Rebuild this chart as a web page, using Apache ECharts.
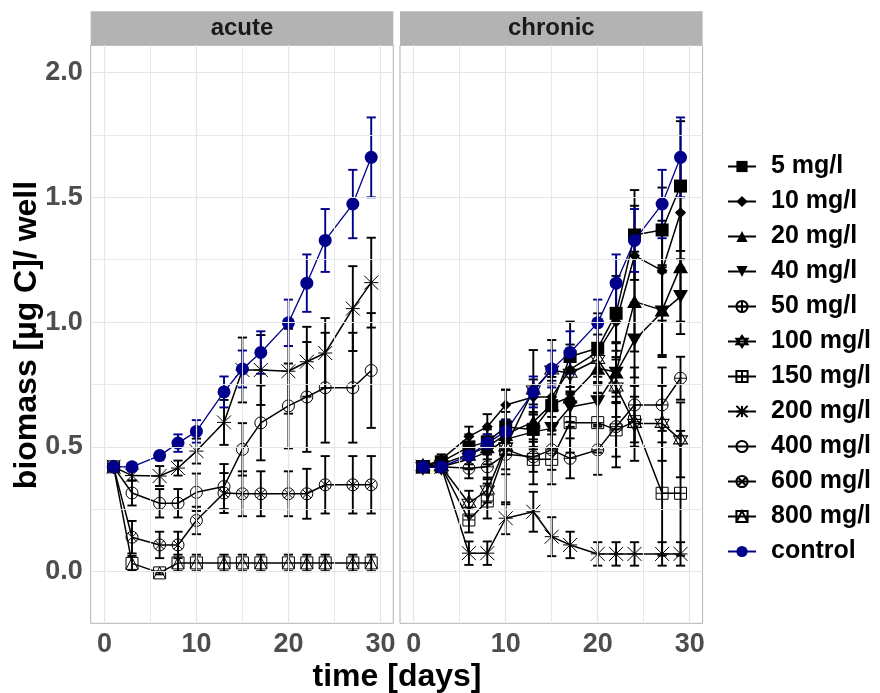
<!DOCTYPE html>
<html>
<head>
<meta charset="utf-8">
<script src="https://cdn.jsdelivr.net/npm/echarts@6/dist/echarts.min.js"></script>
<style>html,body{margin:0;padding:0;background:#fff}#c{width:880px;height:693px}</style>
</head>
<body>
<div id="c"></div>
<script>
// ---------- data ----------
const days = [1, 3, 6, 8, 10, 13, 15, 17, 20, 22, 24, 27, 29];
const xTickLabels = [0, 10, 20, 30];
const yTickLabels = [0, 0.5, 1.0, 1.5, 2.0];
const xGrid = [0, 5, 10, 15, 20, 25, 30];
const yGrid = [0, 0.25, 0.5, 0.75, 1.0, 1.25, 1.5, 1.75, 2.0];
const panels = ['acute', 'chronic'];
const legendOrder = ['5 mg/l','10 mg/l','20 mg/l','40 mg/l','50 mg/l','100 mg/l','150 mg/l','200 mg/l','400 mg/l','600 mg/l','800 mg/l','control'];

// control (same in both panels)
const controlMean = [0.42,0.42,0.465,0.515,0.562,0.72,0.812,0.878,0.997,1.156,1.327,1.473,1.66];
const controlSd   = [0.01,0.01,0.015,0.035,0.045,0.062,0.074,0.085,0.093,0.115,0.126,0.137,0.16];

// acute
const acute200Mean = [0.42,0.385,0.383,0.415,0.483,0.598,0.808,0.808,0.803,0.841,0.876,1.054,1.158];
const acute200Sd   = [0.01,0.02,0.04,0.03,0.05,0.09,0.13,0.14,0.17,0.14,0.14,0.17,0.18];
const acute400Mean = [0.42,0.315,0.274,0.274,0.318,0.341,0.49,0.596,0.664,0.70,0.737,0.737,0.806];
const acute400Sd   = [0.01,0.05,0.057,0.057,0.075,0.09,0.105,0.15,0.17,0.22,0.22,0.22,0.23];
const acute600Mean = [0.42,0.138,0.107,0.107,0.205,0.315,0.312,0.312,0.312,0.312,0.348,0.348,0.348];
const acute600Sd   = [0.01,0.065,0.053,0.053,0.055,0.08,0.09,0.09,0.09,0.1,0.115,0.115,0.115];
const acute800Mean = [0.42,0.033,-0.005,0.035,0.035,0.035,0.035,0.035,0.035,0.035,0.035,0.035,0.035];
const acute800Sd   = [0.01,0.03,0.006,0.033,0.033,0.033,0.033,0.033,0.033,0.033,0.033,0.033,0.033];

// chronic
const chronic5Mean   = [0.42,0.44,0.50,0.52,0.58,0.57,0.665,0.862,0.895,1.035,1.349,1.369,1.545];
const chronic5Sd     = [0.01,0.02,0.05,0.05,0.06,0.07,0.10,0.14,0.14,0.15,0.18,0.17,0.26];
const chronic10Mean  = [0.42,0.45,0.541,0.581,0.668,0.70,0.70,0.81,0.88,1.00,1.266,1.206,1.438];
const chronic10Sd    = [0.01,0.02,0.04,0.05,0.06,0.07,0.08,0.10,0.12,0.15,0.20,0.20,0.22];
const chronic20Mean  = [0.42,0.43,0.47,0.50,0.55,0.60,0.67,0.70,0.815,0.80,1.082,1.048,1.222];
const chronic20Sd    = [0.01,0.02,0.04,0.05,0.06,0.07,0.08,0.10,0.10,0.12,0.20,0.18,0.22];
const chronic40Mean  = [0.42,0.42,0.45,0.48,0.53,0.56,0.574,0.66,0.681,0.795,0.928,1.04,1.102];
const chronic40Sd    = [0.01,0.02,0.04,0.05,0.06,0.07,0.08,0.08,0.10,0.12,0.15,0.18,0.15];
const chronic50Mean  = [0.42,0.42,0.414,0.42,0.47,0.46,0.488,0.454,0.488,0.581,0.668,0.668,0.775];
const chronic50Sd    = [0.01,0.02,0.04,0.05,0.06,0.06,0.08,0.08,0.10,0.12,0.15,0.15,0.086];
const chronic100Mean = [0.42,0.42,0.274,0.327,0.50,0.728,0.808,0.795,0.85,0.74,0.594,0.594,0.528];
const chronic100Sd   = [0.01,0.02,0.05,0.05,0.23,0.16,0.12,0.10,0.10,0.12,0.15,0.15,0.15];
const chronic150Mean = [0.42,0.42,0.207,0.283,0.49,0.45,0.45,0.597,0.597,0.568,0.601,0.314,0.314];
const chronic150Sd   = [0.01,0.02,0.05,0.07,0.10,0.10,0.10,0.12,0.12,0.15,0.10,0.25,0.25];
const chronic200Mean = [0.42,0.42,0.074,0.074,0.214,0.24,0.14,0.107,0.071,0.071,0.071,0.071,0.071];
const chronic200Sd   = [0.01,0.02,0.047,0.047,0.064,0.08,0.078,0.053,0.047,0.047,0.047,0.047,0.047];

// ---------- styles ----------
const SYM = {
  '5 mg/l':   {symbol:'rect', size:13, fill:true},
  '10 mg/l':  {symbol:'diamond', size:11, fill:true},
  '20 mg/l':  {symbol:'triangle', size:[15,13], fill:true},
  '40 mg/l':  {symbol:'path://M0,0 L10,0 L5,8.66 Z', size:[15,13], fill:true},
  '50 mg/l':  {symbol:'path://M0,5 A5,5 0 1,1 10,5 A5,5 0 1,1 0,5 Z M5,0 L5,10 M0,5 L10,5', size:12},
  '100 mg/l': {symbol:'path://M5,0 L10,8.66 L0,8.66 Z M0,2.89 L10,2.89 L5,11.55 Z', size:[14,16]},
  '150 mg/l': {symbol:'path://M0,0 L10,0 L10,10 L0,10 Z M5,0 L5,10 M0,5 L10,5', size:12},
  '200 mg/l': {symbol:'path://M0,5 L10,5 M5,0 L5,10 M0,0 L10,10 M10,0 L0,10', size:14},
  '400 mg/l': {symbol:'circle', size:12},
  '600 mg/l': {symbol:'path://M0,5 A5,5 0 1,1 10,5 A5,5 0 1,1 0,5 Z M1.46,1.46 L8.54,8.54 M8.54,1.46 L1.46,8.54', size:12},
  '800 mg/l': {symbol:'path://M0,0 L10,0 L10,10 L0,10 Z M0,10 L5,0 L10,10', size:12},
  'control':  {symbol:'circle', size:13, fill:true, color:'#00008b'}
};

const panelSeries = [
  [ // acute
    ['200 mg/l', acute200Mean, acute200Sd],
    ['400 mg/l', acute400Mean, acute400Sd],
    ['600 mg/l', acute600Mean, acute600Sd],
    ['800 mg/l', acute800Mean, acute800Sd],
    ['control', controlMean, controlSd]
  ],
  [ // chronic
    ['5 mg/l', chronic5Mean, chronic5Sd],
    ['10 mg/l', chronic10Mean, chronic10Sd],
    ['20 mg/l', chronic20Mean, chronic20Sd],
    ['40 mg/l', chronic40Mean, chronic40Sd],
    ['50 mg/l', chronic50Mean, chronic50Sd],
    ['100 mg/l', chronic100Mean, chronic100Sd],
    ['150 mg/l', chronic150Mean, chronic150Sd],
    ['200 mg/l', chronic200Mean, chronic200Sd],
    ['control', controlMean, controlSd]
  ]
];

const FONT = 'Liberation Sans, Arial, sans-serif';
const GRID = [
  {left: 90.7, top: 45.3, width: 302.6, height: 578},
  {left: 400, top: 45.3, width: 302.6, height: 578}
];

function ebRender(params, api) {
  const x = api.value(0), lo = api.value(1), hi = api.value(2);
  const a = api.coord([x, hi]), b = api.coord([x, lo]);
  const w = 4.6;
  const style = {stroke: api.visual('color'), lineWidth: 1.9, fill: null};
  return {type: 'group', children: [
    {type: 'line', shape: {x1: a[0], y1: a[1], x2: b[0], y2: b[1]}, style},
    {type: 'line', shape: {x1: a[0] - w, y1: a[1], x2: a[0] + w, y2: a[1]}, style},
    {type: 'line', shape: {x1: b[0] - w, y1: b[1], x2: b[0] + w, y2: b[1]}, style}
  ]};
}

const series = [];
const xAxis = [], yAxis = [], grid = [];
panels.forEach((p, i) => {
  grid.push(Object.assign({show: true, borderColor: '#b3b3b3', borderWidth: 1, backgroundColor: '#fff', containLabel: false}, GRID[i]));
  xAxis.push({
    type: 'value', gridIndex: i, min: -1.49, max: 31.4,
    axisLine: {show: false},
    axisTick: {show: true, customValues: xTickLabels, length: 4, lineStyle: {color: '#b3b3b3', width: 1}},
    axisLabel: {show: true, customValues: xTickLabels, margin: 8, color: '#4d4d4d', fontSize: 27, fontWeight: 'bold', fontFamily: FONT},
    splitLine: {show: false}
  });
  yAxis.push({
    type: 'value', gridIndex: i, min: -0.207, max: 2.109,
    axisLine: {show: false},
    axisTick: {show: i === 0, customValues: yTickLabels, length: 4, lineStyle: {color: '#b3b3b3', width: 1}},
    axisLabel: {show: i === 0, customValues: yTickLabels, margin: 8, color: '#4d4d4d', fontSize: 27, fontWeight: 'bold', fontFamily: FONT,
      formatter: v => Number(v).toFixed(1)},
    splitLine: {show: false}
  });
  // grid lines via markLine on a dummy series
  const ml = [];
  xGrid.forEach(v => ml.push({xAxis: v, lineStyle: {color: '#e5e5e5', type: 'solid', width: v % 10 === 0 ? 1.2 : 0.9}}));
  yGrid.forEach(v => ml.push({yAxis: v, lineStyle: {color: '#e5e5e5', type: 'solid', width: (v * 2) % 1 === 0 ? 1.2 : 0.9}}));
  series.push({
    type: 'line', name: '_grid' + i, xAxisIndex: i, yAxisIndex: i, data: [[0, 0]], symbol: 'none',
    lineStyle: {opacity: 0}, z: 1, silent: true,
    markLine: {silent: true, symbol: 'none', label: {show: false}, animation: false,
      lineStyle: {type: 'solid', color: '#e5e5e5'}, emphasis: {disabled: true}, data: ml}
  });
  panelSeries[i].forEach(([name, mean, sd]) => {
    const s = SYM[name];
    const col = s.color || '#000';
    series.push({
      type: 'custom', name: '_eb_' + name + i, xAxisIndex: i, yAxisIndex: i, z: 2,
      renderItem: ebRender, itemStyle: {color: col}, silent: true,
      encode: {x: 0, y: [1, 2]},
      data: days.map((d, k) => [d, mean[k] - sd[k], mean[k] + sd[k]])
    });
    series.push({
      type: 'line', name: name, xAxisIndex: i, yAxisIndex: i, z: name === 'control' ? 4 : 3,
      data: days.map((d, k) => [d, mean[k]]),
      symbol: s.symbol, symbolSize: s.size, showSymbol: true, showAllSymbol: true,
      lineStyle: {color: col, width: name === 'control' ? 1.3 : 1.5},
      itemStyle: s.fill ? {color: col, borderWidth: 0} : {color: 'rgba(0,0,0,0)', borderColor: '#000', borderWidth: 1},
      emphasis: {disabled: true}, silent: true
    });
  });
});

const chart = echarts.init(document.getElementById('c'), null, {renderer: 'canvas'});
chart.setOption({
  animation: false,
  backgroundColor: '#fff',
  grid, xAxis, yAxis, series,
  legend: {
    data: legendOrder, orient: 'vertical', left: 722, top: 149,
    itemWidth: 28, itemHeight: 14, itemGap: 10,
    textStyle: {fontSize: 25, fontWeight: 'bold', color: '#000', fontFamily: FONT, lineHeight: 25, padding: [0, 0, 0, 10]},
    selectedMode: false
  },
  graphic: [
    {type: 'rect', shape: {x: GRID[0].left, y: 11.3, width: GRID[0].width, height: 34}, style: {fill: '#b3b3b3'}},
    {type: 'rect', shape: {x: GRID[1].left, y: 11.3, width: GRID[1].width, height: 34}, style: {fill: '#b3b3b3'}},
    {type: 'text', x: GRID[0].left + GRID[0].width / 2, y: 28.5, style: {text: panels[0], fill: '#1a1a1a', font: 'bold 24px ' + FONT, textAlign: 'center', textVerticalAlign: 'middle'}},
    {type: 'text', x: GRID[1].left + GRID[1].width / 2, y: 28.5, style: {text: panels[1], fill: '#1a1a1a', font: 'bold 24px ' + FONT, textAlign: 'center', textVerticalAlign: 'middle'}},
    {type: 'text', x: 397, y: 677, style: {text: 'time [days]', fill: '#000', font: 'bold 32px ' + FONT, textAlign: 'center', textVerticalAlign: 'middle'}},
    {type: 'text', x: 27, y: 335, rotation: Math.PI / 2, style: {text: 'biomass [µg C]/ well', fill: '#000', font: 'bold 32px ' + FONT, textAlign: 'center', textVerticalAlign: 'middle'}}
  ]
});
</script>
</body>
</html>
